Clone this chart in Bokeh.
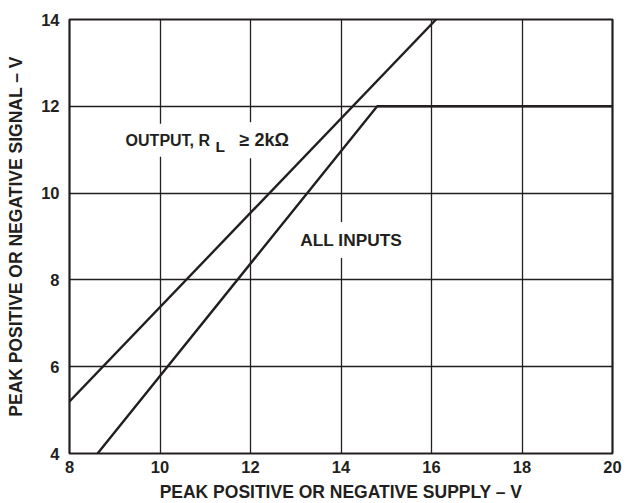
from bokeh.plotting import figure
from bokeh.models import Label, FixedTicker, Range1d
from bokeh.embed import file_html
from bokeh.resources import INLINE

# ---- data ----
supply_output = [8.0, 16.1]
signal_output = [5.2, 14.0]
supply_inputs = [8.62, 14.8, 20.0]
signal_inputs = [4.0, 12.0, 12.0]
x_ticks = [8, 10, 12, 14, 16, 18, 20]
y_ticks = [4, 6, 8, 10, 12, 14]

INK = "#231f20"
FONT = "Liberation Sans"

p = figure(frame_width=543, frame_height=434,
           x_range=Range1d(8, 20), y_range=Range1d(4, 14),
           output_backend="svg", toolbar_location=None,
           min_border_left=69, min_border_right=15,
           min_border_top=19, min_border_bottom=50)
p.background_fill_color = "white"
p.border_fill_color = "white"
p.outline_line_color = INK
p.outline_line_width = 2.2
p.outline_line_alpha = 1.0

p.line(supply_output, signal_output, line_width=2.4, line_color=INK)
p.line(supply_inputs, signal_inputs, line_width=2.4, line_color=INK)

p.xaxis.ticker = FixedTicker(ticks=x_ticks)
p.yaxis.ticker = FixedTicker(ticks=y_ticks)
p.xgrid.ticker = FixedTicker(ticks=x_ticks)
p.ygrid.ticker = FixedTicker(ticks=y_ticks)
for g in (p.xgrid[0], p.ygrid[0]):
    g.grid_line_color = INK
    g.grid_line_width = 1.3
    g.grid_line_alpha = 1.0

p.xaxis.axis_label = "PEAK POSITIVE OR NEGATIVE SUPPLY – V"
p.yaxis.axis_label = "PEAK POSITIVE OR NEGATIVE SIGNAL – V"
for ax in (p.xaxis[0], p.yaxis[0]):
    ax.major_tick_in = 0
    ax.major_tick_out = 0
    ax.minor_tick_in = 0
    ax.minor_tick_out = 0
    ax.axis_line_color = None
    ax.major_label_text_font = FONT
    ax.major_label_text_font_style = "bold"
    ax.major_label_text_font_size = "16.5px"
    ax.major_label_text_color = INK
    ax.axis_label_text_font = FONT
    ax.axis_label_text_font_style = "bold"
    ax.axis_label_text_font_size = "17.5px"
    ax.axis_label_text_color = INK
p.xaxis.major_label_standoff = 7
p.xaxis.axis_label_standoff = 6
p.yaxis.major_label_standoff = 10
p.yaxis.axis_label_standoff = 12

def add_label(x, y, text, size="17px", xoff=0, yoff=0, bg=True):
    pad = 8 if bg else 0
    lab = Label(x=x, y=y, x_units="data", y_units="data", text=text,
                x_offset=xoff - pad, y_offset=yoff,
                text_font=FONT, text_font_style="bold", text_font_size=size,
                text_color=INK, text_align="left", text_baseline="middle",
                background_fill_color="white" if bg else None,
                padding=pad)
    p.add_layout(lab)

# OUTPUT, R_L >= 2kOhm annotation (pieces for the subscript)
add_label(9.24, 11.22, "OUTPUT, R", size="16px")
add_label(9.24, 11.22, "≥ 2kΩ", size="18px", xoff=114)
add_label(9.24, 11.22, "L", size="15.5px", xoff=90, yoff=-6, bg=False)

# ALL INPUTS annotation
add_label(13.10, 8.92, "ALL INPUTS", size="17.3px")

open("out.html", "w").write(file_html(p, INLINE))
